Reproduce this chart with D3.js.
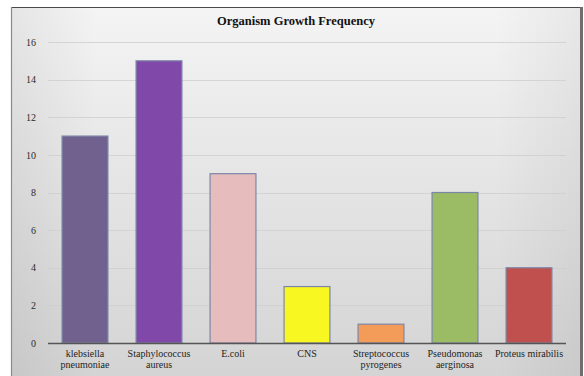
<!DOCTYPE html>
<html>
<head>
<meta charset="utf-8">
<script src="https://cdn.jsdelivr.net/npm/d3@7"></script>
<style>
  html, body { margin: 0; padding: 0; background: #fff; }
  svg { display: block; }
</style>
</head>
<body>
<svg id="chart" width="584" height="376"></svg>
<script>
// Organism names (two-line labels) and growth counts
const organisms = [
  ["klebsiella", "pneumoniae"],
  ["Staphylococcus", "aureus"],
  ["E.coli"],
  ["CNS"],
  ["Streptococcus", "pyrogenes"],
  ["Pseudomonas", "aerginosa"],
  ["Proteus mirabilis"]
];
const counts = [11, 15, 9, 3, 1, 8, 4];
const barColors = ["#71618f", "#8048a8", "#e6bcbc", "#f8f722", "#f39c5a", "#9bbb64", "#c0504d"];
const yTicks = [0, 2, 4, 6, 8, 10, 12, 14, 16];
const title = "Organism Growth Frequency";

const svg = d3.select("#chart");
const W = 584, H = 376;
const frame = { x: 11, y: 7, w: 570, h: 380 };
const plot = { left: 48, right: 566, top: 42, bottom: 343 };

// background gradient of the chart frame
const defs = svg.append("defs");
const grad = defs.append("linearGradient").attr("id", "bg").attr("x1", 0).attr("y1", 0).attr("x2", 0).attr("y2", 1);
grad.append("stop").attr("offset", "0%").attr("stop-color", "#f4f4f4");
grad.append("stop").attr("offset", "100%").attr("stop-color", "#d3d3d3");
const side = defs.append("linearGradient").attr("id", "side").attr("x1", 0).attr("y1", 0).attr("x2", 1).attr("y2", 0);
side.append("stop").attr("offset", "0%").attr("stop-color", "#000").attr("stop-opacity", 0.06);
side.append("stop").attr("offset", "15%").attr("stop-color", "#000").attr("stop-opacity", 0);
side.append("stop").attr("offset", "85%").attr("stop-color", "#000").attr("stop-opacity", 0);
side.append("stop").attr("offset", "100%").attr("stop-color", "#000").attr("stop-opacity", 0.05);

svg.append("rect").attr("x", frame.x).attr("y", frame.y).attr("width", frame.w).attr("height", frame.h)
  .attr("fill", "url(#bg)");
svg.append("rect").attr("x", frame.x).attr("y", frame.y).attr("width", frame.w).attr("height", frame.h)
  .attr("fill", "url(#side)");

// frame edges
svg.append("line").attr("x1", frame.x).attr("x2", frame.x + frame.w).attr("y1", frame.y + 0.5).attr("y2", frame.y + 0.5)
  .attr("stroke", "#4a4a4a").attr("stroke-width", 1.2);
svg.append("line").attr("x1", frame.x + 0.5).attr("x2", frame.x + 0.5).attr("y1", frame.y).attr("y2", H)
  .attr("stroke", "#8a8a8a").attr("stroke-width", 1.2);
svg.append("rect").attr("x", frame.x + frame.w - 1).attr("y", frame.y).attr("width", 3).attr("height", H - frame.y)
  .attr("fill", "#6e6e6e");

const x = d3.scaleBand().domain(d3.range(organisms.length)).range([plot.left, plot.right]).paddingInner(0.38).paddingOuter(0.19);
const y = d3.scaleLinear().domain([0, 16]).range([plot.bottom, plot.top]);

// horizontal gridlines
svg.append("g").selectAll("line").data(yTicks.filter(d => d > 0)).join("line")
  .attr("x1", plot.left).attr("x2", plot.right)
  .attr("y1", d => Math.round(y(d)) + 0.5).attr("y2", d => Math.round(y(d)) + 0.5)
  .attr("stroke", "#cfcfcf").attr("stroke-width", 1).attr("opacity", 0.8);

// y axis labels
const yAxis = d3.axisLeft(y).tickValues(yTicks).tickSize(0).tickPadding(12);
const yg = svg.append("g").attr("transform", `translate(${plot.left},0)`).call(yAxis);
yg.select(".domain").remove();
yg.selectAll("text").attr("font-family", "'Liberation Serif', 'Times New Roman', serif")
  .attr("font-size", 10).attr("fill", "#2a2a2a");

// bars
svg.append("g").selectAll("rect").data(counts).join("rect")
  .attr("x", (d, i) => x(i))
  .attr("y", d => y(d))
  .attr("width", x.bandwidth())
  .attr("height", d => y(0) - y(d))
  .attr("fill", (d, i) => barColors[i])
  .attr("stroke", "#7d86a8").attr("stroke-width", 1.2);

// x axis baseline
svg.append("line").attr("x1", plot.left).attr("x2", plot.right)
  .attr("y1", plot.bottom + 0.5).attr("y2", plot.bottom + 0.5)
  .attr("stroke", "#555").attr("stroke-width", 1.3);

// category labels
const lab = svg.append("g").selectAll("text").data(organisms).join("text")
  .attr("x", (d, i) => x(i) + x.bandwidth() / 2)
  .attr("y", plot.bottom + 14)
  .attr("text-anchor", "middle")
  .attr("font-family", "'Liberation Serif', 'Times New Roman', serif")
  .attr("font-size", 10).attr("fill", "#1e1e1e");
lab.selectAll("tspan").data(d => d).join("tspan")
  .attr("x", function () { return d3.select(this.parentNode).attr("x"); })
  .attr("dy", (d, i) => i === 0 ? 0 : 11)
  .text(d => d);

// title
svg.append("text").attr("x", frame.x + frame.w / 2).attr("y", 25)
  .attr("text-anchor", "middle")
  .attr("font-family", "'Liberation Serif', 'Times New Roman', serif")
  .attr("font-size", 12.5).attr("font-weight", "bold").attr("fill", "#111")
  .text(title);
</script>
</body>
</html>
